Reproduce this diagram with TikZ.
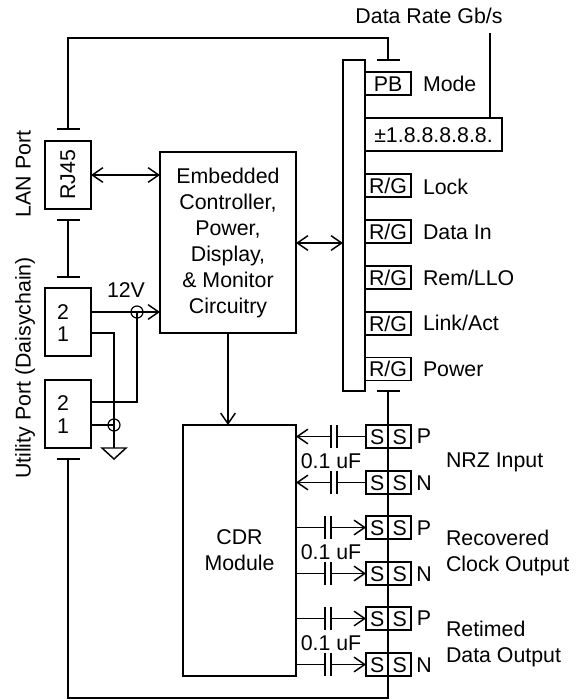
\documentclass[tikz,border=0pt]{standalone}
\usepackage{fontspec}
\setmainfont{Liberation Sans}
\usetikzlibrary{arrows.meta,calc}
\tikzset{
  x=0.75pt,y=-0.75pt,
  wire/.style={line width=1.1pt,line cap=butt},
  barb/.style={wire,-{Straight Barb[length=8pt,width=11pt,line width=1.1pt]}},
  dbarb/.style={wire,{Straight Barb[length=8pt,width=11pt,line width=1.1pt]}-{Straight Barb[length=8pt,width=11pt,line width=1.1pt]}},
  lbl/.style={font=\fontsize{16}{19.5}\selectfont,inner sep=0pt,outer sep=0pt,text height=11.5pt,text depth=0pt},
  mlbl/.style={font=\fontsize{16}{19.5}\selectfont,inner sep=0pt,outer sep=0pt,align=left,anchor=west},
  blk/.style 2 args={draw,line width=1.1pt,inner sep=0pt,outer sep=0pt,minimum width=#1*0.75pt,minimum height=#2*0.75pt,font=\fontsize{16}{19.5}\selectfont,align=center},
  lamp/.style={blk={46}{23},text height=11.5pt,text depth=0pt},
  half/.style={blk={22.5}{23},text height=11.5pt,text depth=0pt},
  capgap/.style={inner sep=0pt,outer sep=0pt,minimum width=6*0.75pt,minimum height=23*0.75pt},
  junct/.style={circle,draw,line width=0.9pt,inner sep=0pt,outer sep=0pt,minimum size=12*0.75pt},
  tee/.style={inner sep=0pt,outer sep=0pt,minimum width=23*0.75pt,minimum height=0pt},
}
\begin{document}
\begin{tikzpicture}
\useasboundingbox (0,0) rectangle (583,700);
% blocks
\node[blk={46}{68}] (rj) at (68,175) {\rotatebox{90}{RJ45}};
\node[blk={46}{68}] (ua) at (68,322) {};
\node[blk={46}{68}] (ub) at (68,414) {};
\node[blk={136}{181}] (ec) at (228,242.5) {Embedded\\Controller,\\Power,\\Display,\\\& Monitor\\Circuitry};
\node[blk={113}{251}] (cdr) at (239.5,550.5) {CDR\\Module};
\node[blk={22}{331}] (bar) at (354,225.5) {};
% front panel
\node[lamp] (pb) at (388,83.5) {PB};
\node[blk={137}{33},text height=11.5pt,text depth=0pt] (disp) at (433.5,134.5) {±1.8.8.8.8.8.};
\node[lamp] (rg1) at (388,185.5) {R/G};
\node[lamp] (rg2) at (388,231.5) {R/G};
\node[lamp] (rg3) at (388,277.5) {R/G};
\node[lamp] (rg4) at (388,323.5) {R/G};
\node[lamp] (rg5) at (388,369) {R/G};
\node[lbl,anchor=west] (lmode) at (423,84) {Mode};
\node[lbl,anchor=west] (l1) at (423,187) {Lock};
\node[lbl,anchor=west] (l2) at (423,232) {Data In};
\node[lbl,anchor=west] (l3) at (423,278) {Rem/LLO};
\node[lbl,anchor=west] (l4) at (423,323) {Link/Act};
\node[lbl,anchor=west] (l5) at (423,369) {Power};
\node[lbl] (rate) at (429,16) {Data Rate Gb/s};
\coordinate (ratec) at (490,33);
\draw[wire] (ratec) -- (ratec |- disp.north);
% side labels
\node[lbl,rotate=90] (lan) at (23,174) {LAN Port};
\node[lbl,rotate=90] (util) at (23,368) {Utility Port (Daisychain)};
% pin numbers
\node[lbl] (ua2) at (63,312) {2};
\node[lbl] (ua1) at (63,334) {1};
\node[lbl] (ub2) at (63,403) {2};
\node[lbl] (ub1) at (63,426) {1};
\node[lbl] (v12) at (126,290) {12V};
% tee bars
\node[tee] (t1) at (68,129) {};
\node[tee] (t2) at (388,60) {};
\node[tee] (t3) at (68,220) {};
\node[tee] (t4) at (68,277) {};
\node[tee] (t5) at (68,459) {};
\node[tee] (t6) at (388,391) {};
\foreach \t in {t1,t2,t3,t4,t5,t6} \draw[wire] (\t.west) -- (\t.east);
\coordinate (topl) at (68,38);
\coordinate (botl) at (68,698);
\draw[wire] (t1.center) -- (topl) -| (t2.center);
\draw[wire] (t3.center) -- (t4.center);
\draw[wire] (t5.center) -- (botl) -| (t6.center);
% main arrows
\draw[dbarb] (rj.east) -- (ec.west |- rj.east);
\coordinate (busy) at (320,243);
\draw[dbarb] (ec.east |- busy) -- (bar.west |- busy);
\draw[barb] (ec.south -| 228,0) -- (228,425);
% utility wiring
\coordinate (a2) at (91,312);
\coordinate (a1) at (91,333);
\coordinate (b2) at (91,402);
\coordinate (b1) at (91,425);
\node[junct] (j12) at (137,312) {};
\node[junct] (jg) at (114,425) {};
\coordinate (gnd) at (114,448);
\draw[barb] (a2) -- (ec.west |- a2);
\draw[wire] (j12.center) -- (b2 -| j12.center) -- (b2);
\draw[wire] (a1) -- (a1 -| gnd) -- (gnd);
\draw[wire] (b1) -- (jg.center);
\draw[wire] (102,448) -- (126,448) -- (114,459) -- cycle;
% SMA connectors
\foreach \n/\y in {1/436.5,2/482.5,3/527.5,4/573.5,5/618.5,6/664.5}{
  \node[half] (sa\n) at (377.25,\y) {S};
  \node[half] (sb\n) at (399.75,\y) {S};
}
\foreach \n/\y/\t in {1/436/P,2/483/N,3/528/P,4/574/N,5/618/P,6/665/N}
  \node[lbl] (pol\n) at (424,\y) {\t};
% capacitors, input pair
\foreach \n in {1,2}{
  \node[capgap] (c\n) at (334,0 |- sa\n.west) {};
  \draw[wire] (c\n.north west) -- (c\n.south west);
  \draw[wire] (c\n.north east) -- (c\n.south east);
  \draw[wire] (sa\n.west) -- (c\n.east);
  \draw[barb] (c\n.west) -- (cdr.east |- c\n.west);
}
% capacitors, output pairs
\foreach \n in {3,4,5,6}{
  \node[capgap] (c\n) at (328,0 |- sa\n.west) {};
  \draw[wire] (c\n.north west) -- (c\n.south west);
  \draw[wire] (c\n.north east) -- (c\n.south east);
  \draw[wire] (cdr.east |- c\n.west) -- (c\n.west);
  \draw[barb] (c\n.east) -- (sa\n.west);
}
\node[lbl] (cv1) at (331,461) {0.1 uF};
\node[lbl] (cv2) at (331,552) {0.1 uF};
\node[lbl] (cv3) at (331,643) {0.1 uF};
\node[lbl,anchor=west] (nrz) at (446,460) {NRZ Input};
\node[mlbl] (rec) at (446,553) {Recovered\\Clock Output};
\node[mlbl] (ret) at (446,644) {Retimed\\Data Output};
\end{tikzpicture}
\end{document}
